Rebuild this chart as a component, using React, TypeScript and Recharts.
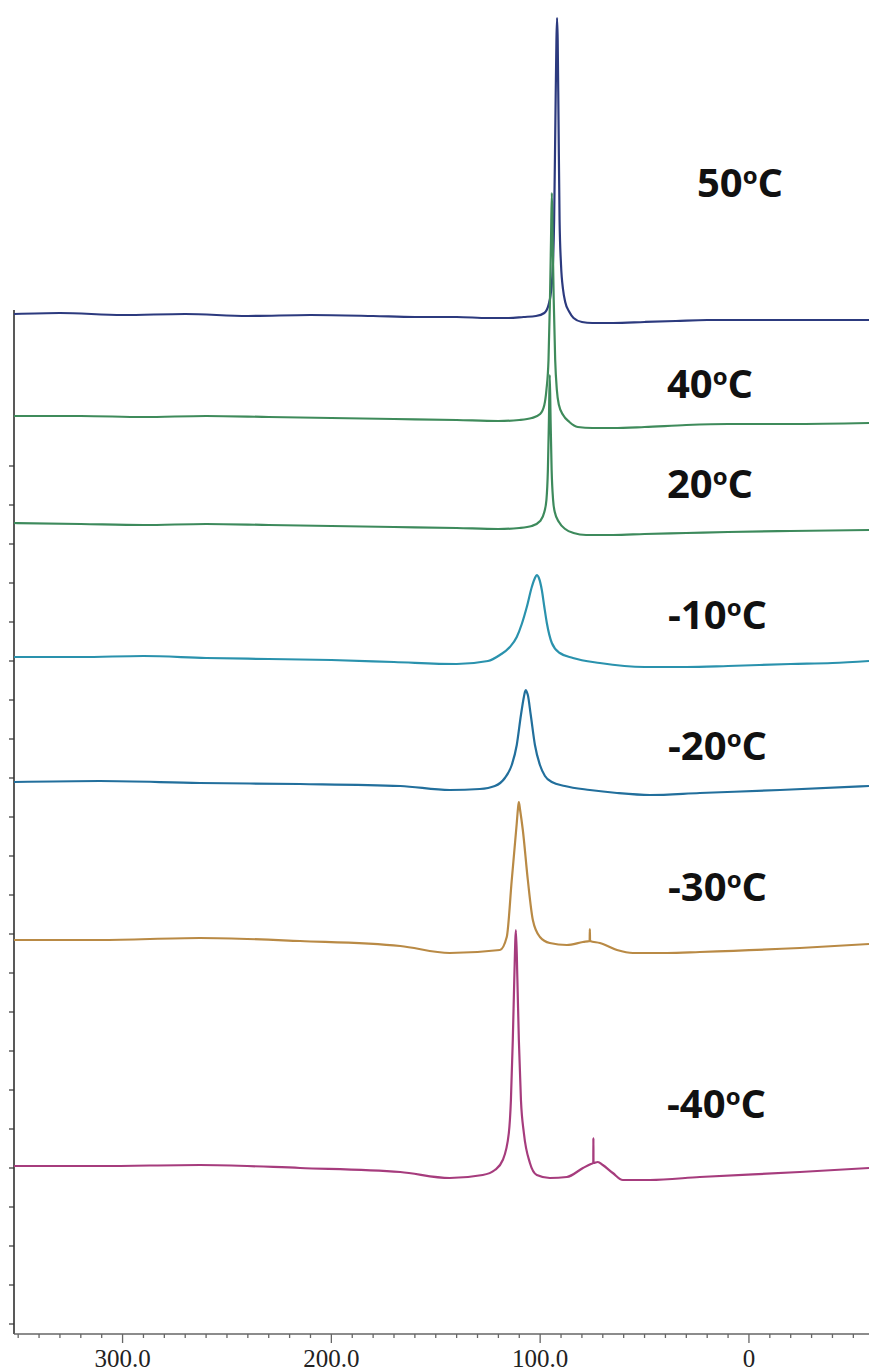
import React from 'react';
import { LineChart, Line, XAxis, YAxis, ReferenceLine } from 'recharts';

// chemical shift (ppm) and signal level (stacked, arbitrary units) for each temperature
const ppm50 = [352, 330, 300, 270, 240, 210, 180, 160, 140, 125, 115, 108, 102, 98, 96, 95, 94, 93.3, 92.7, 92.2, 91.9, 91.6, 91.2, 90.7, 90, 89, 88, 86, 84, 80, 75, 65, 50, 35, 20, 0, -20, -40, -57.5];
const int50 = [1020, 1021, 1019, 1020, 1018, 1019, 1018, 1017, 1017, 1016, 1016, 1017, 1018, 1021, 1029, 1039, 1064, 1114, 1214, 1294, 1316, 1294, 1214, 1114, 1069, 1044, 1032, 1022, 1016, 1012, 1011, 1011, 1012, 1013, 1014, 1014, 1014, 1014, 1014];

const ppm40 = [352, 320, 290, 260, 230, 200, 170, 140, 120, 110, 104, 100, 98, 97, 96, 95.3, 94.8, 94.4, 94, 93.5, 92.8, 92, 91, 89, 86, 82, 75, 65, 50, 30, 10, -20, -57.5];
const int40 = [918, 918, 917, 918, 917, 916, 915, 914, 913, 914, 916, 920, 929, 944, 974, 1034, 1094, 1141, 1094, 1034, 974, 944, 929, 919, 912, 907, 906, 906, 907, 909, 910, 910, 911];

const ppm20 = [352, 320, 290, 260, 230, 200, 170, 140, 120, 110, 104, 100, 98, 97, 96.3, 95.8, 95.4, 95, 94.5, 93.8, 93, 91, 88, 84, 78, 65, 50, 30, 10, -20, -57.5];
const int20 = [811, 810, 809, 810, 809, 808, 807, 806, 805, 806, 808, 813, 822, 834, 864, 914, 959, 914, 864, 834, 822, 812, 805, 801, 799, 799, 800, 801, 802, 803, 804];

const ppmM10 = [352, 320, 290, 260, 230, 200, 170, 140, 125, 119.3, 114.5, 111.2, 108.8, 106.4, 104, 102.5, 101.6, 100.6, 99.2, 98, 96.8, 94.4, 90.6, 84.3, 71.4, 50, 30, 10, -20, -40, -57.5];
const intM10 = [677, 677, 678, 676, 675, 674, 672, 670, 673, 679, 687, 697, 710, 727, 747, 756, 759, 756, 744, 727, 711, 691, 681, 676, 671, 667, 667, 668, 670, 671, 673];

const ppmM20 = [352, 311, 263, 215, 167, 143.3, 128.9, 121.7, 116.9, 113.6, 111.2, 109.2, 107.8, 107.3, 106.9, 106.4, 105.9, 104.5, 102.5, 100.1, 97.7, 94.4, 88.2, 76.2, 63.2, 47.4, 23.5, -14.9, -57.5];
const intM20 = [552, 553, 551, 550, 548, 544, 545, 548, 556, 569, 589, 619, 637, 642, 644, 642, 639, 619, 589, 569, 558, 552, 548, 544, 541, 539, 541, 544, 548];

const ppmM30 = [352, 311, 263, 215, 167, 143.3, 119.3, 116, 113.6, 111.2, 110.6, 110.2, 109.6, 108.3, 105.9, 103.5, 100.1, 95.4, 87.2, 79.5, 76.3, 76.2, 76.1, 71.4, 63.2, 55.6, 39.3, 23.5, -24.4, -57.5];
const intM30 = [394, 394, 396, 393, 388, 381, 384, 397, 454, 511, 526, 532, 524, 504, 454, 414, 397, 391, 389, 392, 393, 405, 393, 391, 384, 381, 381, 382, 386, 390];

const ppmM40 = [352, 311, 263, 215, 167, 143.3, 127.5, 121.7, 117.9, 115, 114, 113.1, 112.4, 111.6, 110.9, 110.2, 109.2, 107.8, 104.9, 101.6, 95.4, 87.2, 79.5, 75.7, 74.55, 74.5, 74.45, 72.4, 70, 65.2, 60.4, 47.4, 23.5, -24.4, -57.5];
const intM40 = [168, 168, 169, 166, 162, 156, 159, 164, 174, 201, 234, 294, 354, 404, 354, 294, 234, 201, 171, 159, 156, 157, 166, 170, 171, 196, 171, 172, 169, 161, 154, 154, 157, 162, 166];

const tempLabels = ['50', '40', '20', '-10', '-20', '-30', '-40'];
const colors = ['#2c3a7e', '#3f8b5b', '#3d8a5c', '#2a92ad', '#226f9c', '#b98a45', '#a63c7d'];

const xTicks = [350, 340, 330, 320, 310, 300, 290, 280, 270, 260, 250, 240, 230, 220, 210, 200, 190, 180, 170, 160, 150, 140, 130, 120, 110, 100, 90, 80, 70, 60, 50, 40, 30, 20, 10, 0, -10, -20, -30, -40, -50];
const xTickLabels: Record<number, string> = { 300: '300.0', 200: '200.0', 100: '100.0', 0: '0' };
const yTicks = [10, 49, 88, 127, 166, 205, 244, 283, 322, 361, 400, 439, 478, 517, 556, 595, 634, 673, 712, 751, 790, 829, 868];

const zip = (xs: number[], ys: number[]) => xs.map((x, i) => ({ x, h: ys[i] }));
const seriesData = [
  zip(ppm50, int50),
  zip(ppm40, int40),
  zip(ppm20, int20),
  zip(ppmM10, intM10),
  zip(ppmM20, intM20),
  zip(ppmM30, intM30),
  zip(ppmM40, intM40),
];

// layout of the temperature annotations (page pixels)
const labelPos = [
  { left: 697, top: 162 },
  { left: 667, top: 363 },
  { left: 667, top: 463 },
  { left: 668, top: 594 },
  { left: 668, top: 725 },
  { left: 668, top: 866 },
  { left: 667, top: 1083 },
];

const XTick = (props: any) => {
  const { x, y, payload } = props;
  const lab = xTickLabels[payload.value];
  const major = lab !== undefined;
  return (
    <g>
      <line x1={x} x2={x} y1={y} y2={y + (major ? 9 : 4)} stroke="#666" strokeWidth={1.3} />
      {major && (
        <text x={x} y={y + 33} textAnchor="middle" fontFamily="'Liberation Serif', serif" fontSize={25} fill="#222">
          {lab}
        </text>
      )}
    </g>
  );
};

export default function App() {
  return (
    <div style={{ position: 'relative', width: 869, height: 1371, background: '#fff', overflow: 'hidden' }}>
      <style>{`body{margin:0}`}</style>
      <LineChart width={869} height={1371} margin={{ top: 0, right: 0, bottom: 0, left: 0 }}>
        <XAxis
          type="number"
          dataKey="x"
          domain={[-57.5, 352]}
          reversed
          allowDataOverflow
          ticks={xTicks}
          interval={0}
          tick={<XTick />}
          tickLine={false}
          tickSize={0}
          tickMargin={0}
          height={37}
          axisLine={{ stroke: '#666', strokeWidth: 1.5 }}
        />
        <YAxis
          type="number"
          domain={[0, 1334]}
          allowDataOverflow
          ticks={yTicks}
          interval={0}
          width={14}
          axisLine={false}
          tickLine={{ stroke: '#333', strokeWidth: 1.2 }}
          tickSize={5}
          tickFormatter={() => ''}
        />
        <ReferenceLine
          segment={[{ x: 352, y: 0 }, { x: 352, y: 1024 }]}
          stroke="#222"
          strokeWidth={1.5}
          ifOverflow="visible"
        />
        {seriesData.map((d, i) => (
          <Line
            key={tempLabels[i]}
            data={d}
            dataKey="h"
            type="monotone"
            stroke={colors[i]}
            strokeWidth={2.2}
            dot={false}
            activeDot={false}
            isAnimationActive={false}
          />
        ))}
      </LineChart>
      {tempLabels.map((t, i) => (
        <div
          key={t}
          style={{
            position: 'absolute',
            left: labelPos[i].left,
            top: labelPos[i].top,
            fontFamily: "'Open Sans', sans-serif",
            fontWeight: 700,
            fontSize: 40,
            lineHeight: '40px',
            color: '#111',
            whiteSpace: 'nowrap',
          }}
        >
          {t}
          <span style={{ fontSize: 24, position: 'relative', top: -13 }}>o</span>C
        </div>
      ))}
    </div>
  );
}
